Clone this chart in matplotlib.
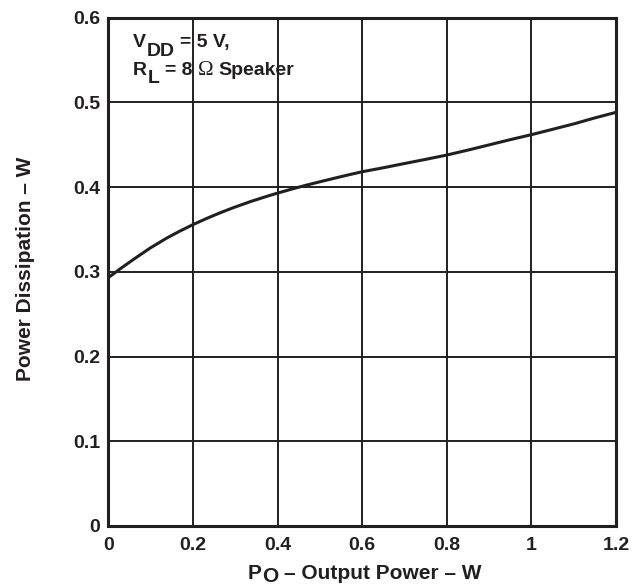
import matplotlib
matplotlib.use("Agg")
import matplotlib.pyplot as plt
from matplotlib.font_manager import FontProperties

plt.rcParams['font.family'] = ['Liberation Sans', 'DejaVu Sans']
plt.rcParams['font.weight'] = 'bold'

# Data
output_power = [0.0, 0.028, 0.059, 0.099, 0.138, 0.170, 0.200, 0.233, 0.265, 0.296,
                0.336, 0.376, 0.400, 0.439, 0.470, 0.502, 0.534, 0.565, 0.600,
                0.651, 0.699, 0.750, 0.800, 0.853, 0.904, 0.952, 1.003, 1.055,
                1.102, 1.149, 1.200]
power_dissipation = [0.293, 0.3034, 0.3144, 0.3280, 0.3397, 0.3482, 0.3556, 0.3630,
                     0.3697, 0.3757, 0.3828, 0.3892, 0.3928, 0.3983, 0.4024, 0.4064,
                     0.4103, 0.4140, 0.4180, 0.4228, 0.4276, 0.4326, 0.4377, 0.4439,
                     0.4502, 0.4561, 0.4621, 0.4687, 0.4747, 0.4814, 0.4881]

x_ticks = [0, 0.2, 0.4, 0.6, 0.8, 1.0, 1.2]
x_tick_labels = ['0', '0.2', '0.4', '0.6', '0.8', '1', '1.2']
y_ticks = [0, 0.1, 0.2, 0.3, 0.4, 0.5, 0.6]
y_tick_labels = ['0', '0.1', '0.2', '0.3', '0.4', '0.5', '0.6']

ink = '#231f20'
W, H = 643, 586

fig = plt.figure(figsize=(W / 100, H / 100), dpi=100)
ax = fig.add_axes([108.3 / W, 1 - 526 / H, (616 - 108.3) / W, (526 - 17.5) / H])

ax.plot(output_power, power_dissipation, color=ink, lw=2.2, solid_capstyle='butt',
        solid_joinstyle='round', zorder=3)

ax.set_xlim(0, 1.2)
ax.set_ylim(0, 0.6)
ax.set_xticks(x_ticks)
ax.set_xticklabels(x_tick_labels)
ax.set_yticks(y_ticks)
ax.set_yticklabels(y_tick_labels)
ax.tick_params(length=0, labelsize=14, colors=ink)
ax.tick_params(axis='y', pad=6)
ax.tick_params(axis='x', pad=8)
for lab in ax.get_xticklabels() + ax.get_yticklabels():
    lab.set_fontweight('bold')

ax.grid(True, color=ink, lw=1.4)
ax.set_axisbelow(True)
for s in ax.spines.values():
    s.set_linewidth(2.2)
    s.set_color(ink)

# y label
fig.text(26 / W, 1 - 269 / H, 'Power Dissipation – W', rotation=90, fontsize=15,
         fontweight='bold', color=ink, ha='center', va='center')

sans = FontProperties(family='Liberation Sans', weight='bold', size=14)
sans15 = FontProperties(family='Liberation Sans', weight='bold', size=15)
serif = FontProperties(family='Liberation Serif', weight='normal', size=15)

renderer = fig.canvas.get_renderer()


def chain(x_px, parts, ha='left'):
    """parts: list of (text, baseline_y_px, fontprops, gap_before_px)"""
    widths = []
    for txt, y, fp, gap in parts:
        t = fig.text(0, 0, txt, fontproperties=fp)
        widths.append(t.get_window_extent(renderer).width + gap)
        t.remove()
    total = sum(widths)
    x = x_px - total / 2 if ha == 'center' else x_px
    for (txt, y, fp, gap), w in zip(parts, widths):
        fig.text((x + gap) / W, 1 - y / H, txt, fontproperties=fp, color=ink,
                 ha='left', va='baseline')
        x += w


sp14 = 0.278 * 14 * 100 / 72
sp15 = 0.278 * 15 * 100 / 72

# annotation box text
chain(133, [('V', 47, sans, 0), ('DD', 55.5, sans, 0.5), ('= 5 V,', 47, sans, sp14)])
chain(133, [('R', 75, sans, 0), ('L', 83, sans, 0.5), ('= 8', 75, sans, sp14),
            ('Ω', 75, serif, sp14), ('Speaker', 75, sans, sp14)])

# x label
chain(365, [('P', 579, sans15, 0), ('O', 582, sans15, 0.5),
            ('– Output Power – W', 579, sans15, sp15)], ha='center')

fig.savefig('out.png', dpi=100)
